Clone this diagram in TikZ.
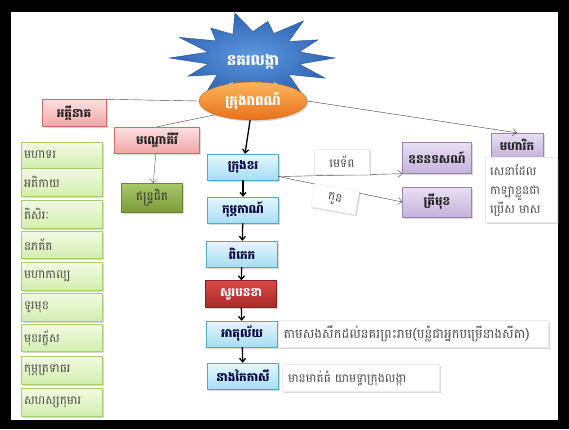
\documentclass[tikz,border=0pt]{standalone}
\usepackage{fontspec}
\newfontfamily\kh[Script=Khmer]{Battambang}
\usetikzlibrary{shapes.geometric,shadows,arrows.meta}

\definecolor{bluetop}{HTML}{E6F7FD}
\definecolor{bluebot}{HTML}{A6DDF2}
\definecolor{blueline}{HTML}{4BACC6}
\definecolor{redtop}{HTML}{FCE0E0}
\definecolor{redbot}{HTML}{F2A5A5}
\definecolor{redline}{HTML}{D46A6A}
\definecolor{darkredtop}{HTML}{D94A48}
\definecolor{darkredbot}{HTML}{A82A28}
\definecolor{purptop}{HTML}{E8E0F2}
\definecolor{purpbot}{HTML}{C4B2DC}
\definecolor{purpline}{HTML}{8064A2}
\definecolor{greentop}{HTML}{F2FAE3}
\definecolor{greenbot}{HTML}{D3EEAF}
\definecolor{greenline}{HTML}{A5D06A}
\definecolor{olivetop}{HTML}{A8C868}
\definecolor{olivebot}{HTML}{7B9B3B}
\definecolor{orangetop}{HTML}{FBB45A}
\definecolor{orangebot}{HTML}{E8701A}
\definecolor{startop}{HTML}{5C97DE}
\definecolor{starbot}{HTML}{2E65B5}

\tikzset{
    box/.style={draw,rectangle,inner sep=2pt,text=black!85,
        font=\kh\bfseries\fontsize{12}{14}\selectfont,
        drop shadow={opacity=.3,shadow xshift=1.5pt,shadow yshift=-1.5pt}},
    bluebox/.style={box,minimum width=71pt,minimum height=26pt,
        top color=bluetop,bottom color=bluebot,draw=blueline,text=blue!25!black},
    redbox/.style={box,top color=redtop,bottom color=redbot,draw=redline},
    purplebox/.style={box,top color=purptop,bottom color=purpbot,draw=purpline!80},
    greenitem/.style={box,minimum width=81pt,text width=76pt,align=left,inner xsep=2.5pt,
        font=\kh\fontsize{12}{14}\selectfont,text=black!70,
        top color=greentop,bottom color=greenbot,draw=greenline},
    note/.style={box,fill=white,draw=black!8,align=left,inner xsep=5pt,
        font=\kh\fontsize{12}{19}\selectfont,text=black!70},
    flow/.style={-{Straight Barb[length=3.5pt,width=6pt]},line width=1.3pt},
    thinarrow/.style={-{Straight Barb[length=4pt,width=7pt]},black!75,thin},
    link/.style={black!75,thin}
}

\begin{document}
\begin{tikzpicture}[x=1pt,y=-1pt]
    \useasboundingbox (0,0) rectangle (569,429);
    \fill[black] (0,0) rectangle (569,429);
    \fill[white] (11,12) rectangle (558,420);

    % star
    \shade[inner color=startop,outer color=starbot,draw=starbot!80!black]
        (335,58) \foreach \a/\r in {13/.58,26/.88,39/.56,52/1.0,64/.58,77/.8,90/.56,103/.98,116/.56,129/.82,
            141/.58,154/1.0,167/.56,180/1.02,193/.56,206/.88,219/.56,232/.92,244/.56,257/.8,270/.56,
            283/.85,296/.56,309/.92,321/.56,334/.98,347/.58}
        { -- ({253+82*\r*cos(\a)},{58-47*\r*sin(\a)}) } -- cycle;
    \node[text=white,font=\kh\bfseries\fontsize{15}{17}\selectfont] (lanka) at (253,62) {នគរលង្កា};

    \node[ellipse,minimum width=108pt,minimum height=38pt,top color=orangetop,bottom color=orangebot,
        draw=orangebot!90!black,text=white,font=\kh\bfseries\fontsize{13.5}{15}\selectfont,inner sep=1pt,
        drop shadow={opacity=.3,shadow xshift=1.5pt,shadow yshift=-1.5pt}] (reap) at (253,101) {ក្រុងរាពណ៍};

    % wives and son
    \node[redbox,minimum width=64pt,minimum height=27pt] (akki) at (74,113) {អគ្គីនាគ};
    \node[redbox,minimum width=85pt,minimum height=26pt] (mondo) at (157,140) {មណ្ឌោគីរី};
    \node[box,minimum width=61pt,minimum height=29pt,top color=olivetop,bottom color=olivebot,
        draw=olivebot!85!black,text=black!80,font=\kh\fontsize{12}{14}\selectfont] (intra) at (152,198) {ឥន្ទ្រជិត};

    % sons list
    \foreach \y/\h/\t [count=\i] in {155/26/មហាទរ,182/28/អតិកាយ,214/28/តិសិរៈ,245/27/នភគ័ត,276/28/មហាកាល្ប,
        307/28/ទូរមុខ,338/27/មុខរក្ខ័ស,370/28/កុម្ភត្រទាធរ,402/28/សហស្សកុមារ}
        \node[greenitem,minimum height=\h pt] (g\i) at (62,\y) {\t};

    % siblings
    \node[bluebox] (khor) at (243,167) {ក្រុងខរ};
    \node[bluebox] (kumbh) at (243,210) {កុម្ភកាណ៍};
    \node[bluebox] (phipek) at (242,254) {ពិភេក};
    \node[box,minimum width=71pt,minimum height=27pt,top color=darkredtop,bottom color=darkredbot,
        draw=darkredbot!80!black,text=white] (supn) at (241,294) {សូរបនខា};
    \node[bluebox] (atul) at (242,334) {អាតុល័យ};
    \node[bluebox] (kaikasi) at (243,376) {នាងកៃកាសី};

    % notes
    \node[note,minimum width=270pt,minimum height=27pt,text width=259pt,
        font=\kh\fontsize{13}{15}\selectfont] (atulnote) at (413,334)
        {តាមសងសឹកដល់នគរព្រះរាម(បន្លំជាអ្នកបម្រើនាងសីតា)};
    \node[note,minimum width=157pt,minimum height=27pt,text width=146pt] (kainote) at (361,378)
        {មានមាត់ធំ យាមទ្វាក្រុងលង្កា};

    % khor's men
    \node[purplebox,minimum width=69pt,minimum height=31pt] (ud) at (437,158) {ឧននទសណ៍};
    \node[purplebox,minimum width=69pt,minimum height=30pt] (trimukh) at (437,202) {ត្រីមុខ};
    \node[purplebox,minimum width=52pt,minimum height=24pt] (marik) at (517,145) {មហារិក};
    \node[note,minimum width=72pt,minimum height=65pt,text width=62pt,inner xsep=4pt] (mariknote) at (521,190)
        {សេនាដែល\\កាឡាខ្លួនជា\\ប្រើស មាស};

    \draw[thinarrow] (khor.-15) -- (ud.south west);
    \draw[thinarrow] (khor.-15) -- (trimukh.west);
    \node[note,minimum width=55pt,minimum height=25pt] (meteap) at (342,162) {មេទ័ព};
    \node[note,minimum width=45pt,minimum height=24pt,rotate=-10] (kon) at (335,199) {កូន};

    % connectors
    \draw[link] (reap.west) -- (akki.north east);
    \draw[link] (reap.200) -- (mondo.north);
    \draw[thinarrow,black!65] (mondo) -- (intra);
    \draw[thinarrow] (reap.east) -- (marik.north);
    \draw[flow] (reap) -- (khor);
    \draw[flow] (khor) -- (kumbh);
    \draw[flow] (kumbh) -- (phipek);
    \draw[flow] (phipek) -- (supn);
    \draw[flow] (supn) -- (atul);
    \draw[flow] (atul) -- (kaikasi);
\end{tikzpicture}
\end{document}
